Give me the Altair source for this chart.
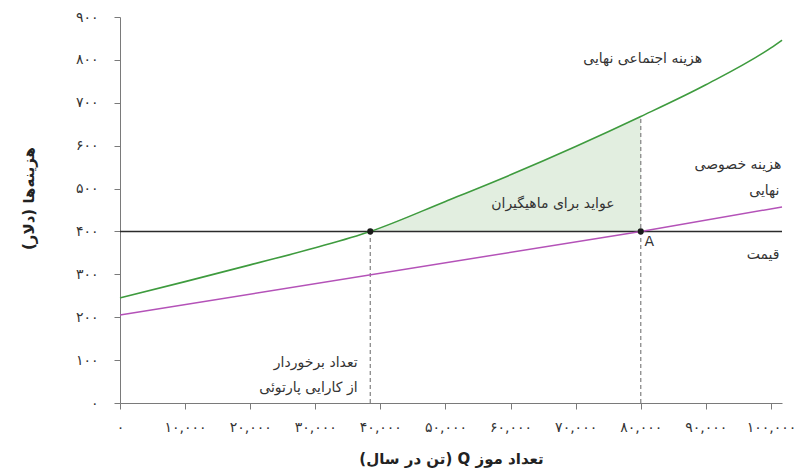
import altair as alt
import pandas as pd

# ---- data ----
x_ticks = [0, 10000, 20000, 30000, 40000, 50000, 60000, 70000, 80000, 90000, 100000]
x_tick_labels = ["۰", "۱۰,۰۰۰", "۲۰,۰۰۰", "۳۰,۰۰۰", "۴۰,۰۰۰", "۵۰,۰۰۰",
                 "۶۰,۰۰۰", "۷۰,۰۰۰", "۸۰,۰۰۰", "۹۰,۰۰۰", "۱۰۰,۰۰۰"]
y_ticks = [0, 100, 200, 300, 400, 500, 600, 700, 800, 900]
y_tick_labels = ["۰", "۱۰۰", "۲۰۰", "۳۰۰", "۴۰۰", "۵۰۰", "۶۰۰", "۷۰۰", "۸۰۰", "۹۰۰"]

q_social = [0, 10000, 20000, 30000, 38450, 50000, 60000, 70000, 80000, 90000, 100000, 101700]
mc_social = [245, 283, 322, 362, 400, 470, 532, 598, 668, 742, 828, 846]
q_private = [0, 80000, 101700]
mc_private = [205, 400, 457]
price = 400
q_pareto = 38450
q_market = 80000
q_max = 101700

x_title = "تعداد موز Q (تن در سال)"
y_title = "هزینه‌ها (دلار)"

labels_text = ["هزینه اجتماعی نهایی", "هزینه خصوصی", "نهایی", "قیمت", "A",
               "عواید برای ماهیگیران", "تعداد برخوردار", "از کارایی پارتوئی"]
labels_q = [80300, 101600, 101300, 101300, 81300, 66500, 36500, 36500]
labels_v = [803, 555, 495, 345, 375, 463, 94, 35]
labels_align = ["center", "right", "right", "right", "center", "center", "right", "right"]

FONT = "DejaVu Sans"
RLE, PDF = "\u202b", "\u202c"

social = pd.DataFrame({"q": q_social, "v": mc_social})
private = pd.DataFrame({"q": q_private, "v": mc_private})
area_df = social[(social.q >= q_pareto) & (social.q <= q_market)].assign(p=price)
price_df = pd.DataFrame({"q": [0], "q2": [q_max], "v": [price]})
dash_df = pd.DataFrame({"q": [q_pareto, q_market], "z": [0, 0],
                        "v": [price, mc_social[q_social.index(q_market)]]})
dots_df = pd.DataFrame({"q": [q_pareto, q_market], "v": [price, price]})
lab_df = pd.DataFrame({"t": labels_text, "q": labels_q, "v": labels_v, "a": labels_align})

xlab = "[" + ",".join(f"'{s}'" for s in x_tick_labels) + "][indexof([" + ",".join(str(v) for v in x_ticks) + "], datum.value)]"
ylab = "[" + ",".join(f"'{s}'" for s in y_tick_labels) + "][indexof([" + ",".join(str(v) for v in y_ticks) + "], datum.value)]"

xscale = alt.Scale(domain=[0, q_max], nice=False, zero=False)
yscale = alt.Scale(domain=[0, 900], nice=False)
xaxis = alt.Axis(values=x_ticks, labelExpr=xlab, title=RLE + x_title + PDF,
                 tickSize=6, labelPadding=11, titleY=55, titleBaseline="middle",
                 labelFlush=False)
yaxis = alt.Axis(values=y_ticks, labelExpr=ylab, title=RLE + y_title + PDF,
                 tickSize=6, labelPadding=16, titleX=-92, titleY=181,
                 titleAngle=-90, titleAlign="center", titleBaseline="middle")

def X(f="q"):
    return alt.X(f"{f}:Q", scale=xscale, axis=xaxis)

def Y(f="v"):
    return alt.Y(f"{f}:Q", scale=yscale, axis=yaxis)

area = alt.Chart(area_df).mark_area(color="#e2eee0", opacity=1, interpolate="monotone").encode(
    x=X(), y=Y(), y2="p:Q")
dashes = alt.Chart(dash_df).mark_rule(color="#8a8a8a", strokeDash=[4, 3], strokeWidth=1.3).encode(
    x=X(), y=Y("z"), y2="v:Q")
price_line = alt.Chart(price_df).mark_rule(color="#2b2b2b", strokeWidth=1.4).encode(
    x=X(), x2="q2:Q", y=Y())
priv = alt.Chart(private).mark_line(color="#b452b8", strokeWidth=1.5).encode(x=X(), y=Y())
soc = alt.Chart(social).mark_line(color="#3e9b3e", strokeWidth=1.6, interpolate="monotone").encode(x=X(), y=Y())
dots = alt.Chart(dots_df).mark_circle(color="#1a1a1a", size=38, opacity=1).encode(x=X(), y=Y())

texts = []
for al in ["left", "center", "right"]:
    sub = lab_df[lab_df.a == al]
    if len(sub):
        texts.append(alt.Chart(sub).mark_text(font=FONT, fontSize=14, color="#333333",
                                              align=al, baseline="middle").encode(
            x=X(), y=Y(), text="t:N"))

chart = alt.layer(area, dashes, price_line, priv, soc, dots, *texts).properties(
    width=662, height=386,
    autosize=alt.AutoSizeParams(type="none"),
    padding={"left": 112, "top": 9, "right": 20, "bottom": 70},
).configure_view(stroke=None).configure_axis(
    domainColor="#7a7a7a", tickColor="#7a7a7a", labelColor="#333333",
    labelFont=FONT, labelFontSize=14, titleFont=FONT, titleFontSize=15,
    titleFontWeight="bold", titleColor="#222222", grid=False,
)

chart.save("out.html", embed_options={"renderer": "svg", "actions": False})
